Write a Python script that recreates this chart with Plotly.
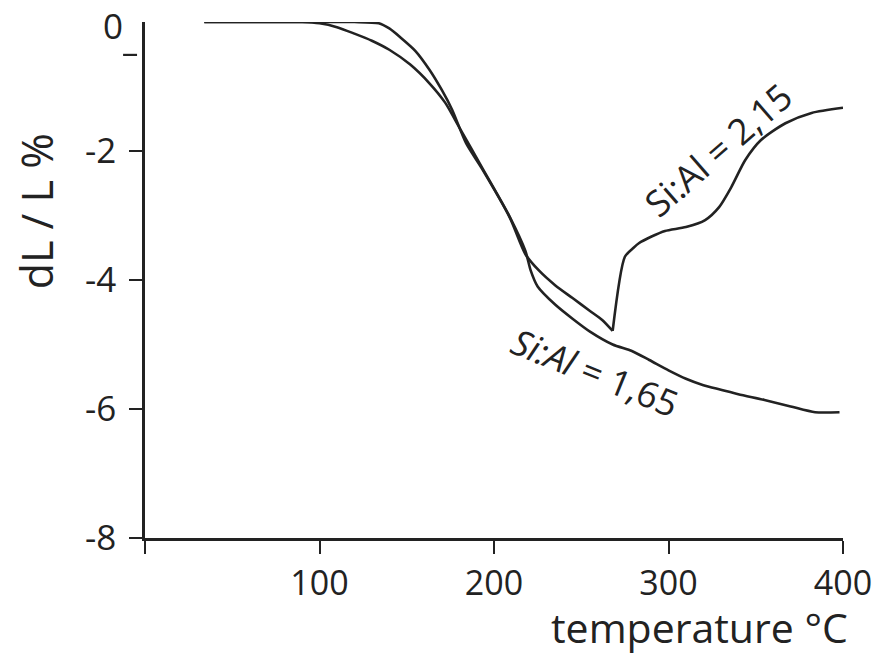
import plotly.graph_objects as go

# Si:Al = 1,65 curve
temp_165 = [34, 60, 90, 100, 110, 120, 130, 140, 152, 163, 172, 180, 193, 209, 218, 221, 225, 235, 245, 255, 268, 279, 289, 300, 310, 320, 330, 340, 355, 370, 384, 398]
dl_165 = [0, 0, 0, -0.02, -0.08, -0.18, -0.29, -0.43, -0.66, -0.95, -1.25, -1.63, -2.25, -3.02, -3.55, -3.85, -4.1, -4.38, -4.6, -4.8, -5.0, -5.1, -5.24, -5.4, -5.53, -5.63, -5.7, -5.77, -5.86, -5.96, -6.05, -6.05]

# Si:Al = 2,15 curve (falling part up to the minimum, then the rising part)
temp_215 = [34, 60, 100, 120, 134, 140, 146, 155, 163, 170, 176, 184, 193, 209, 218, 226, 235, 245, 255, 262, 268, 275, 280, 283, 290, 298, 310, 321, 329, 336, 344, 353, 367, 382, 400]
dl_215 = [0, 0, 0, 0, -0.02, -0.1, -0.23, -0.45, -0.74, -1.05, -1.36, -1.88, -2.27, -3.03, -3.6, -3.86, -4.08, -4.28, -4.48, -4.62, -4.79, -3.64, -3.5, -3.43, -3.33, -3.24, -3.18, -3.07, -2.87, -2.56, -2.14, -1.83, -1.57, -1.41, -1.33]
min_idx_215 = dl_215.index(min(dl_215))

x_ticks = [0, 100, 200, 300, 400]
x_labels = ["", "100", "200", "300", "400"]
y_ticks = [-8, -6, -4, -2]
y_labels = ["-8", "-6", "-4", "-2"]

INK = "#222222"
FONT = "Open Sans"
LINE = dict(color=INK, width=2.6, shape="spline", smoothing=0.7)

fig = go.Figure()
fig.add_trace(go.Scatter(x=temp_165, y=dl_165, mode="lines", line=LINE, showlegend=False))
fig.add_trace(go.Scatter(x=temp_215[:min_idx_215 + 1], y=dl_215[:min_idx_215 + 1],
                         mode="lines", line=LINE, showlegend=False))
fig.add_trace(go.Scatter(x=temp_215[min_idx_215:], y=dl_215[min_idx_215:],
                         mode="lines", line=LINE, showlegend=False))

fig.update_layout(
    width=884, height=656,
    margin=dict(l=145, r=39, t=22, b=118),
    paper_bgcolor="white", plot_bgcolor="white",
    font=dict(family=FONT, color=INK),
    xaxis=dict(range=[0, 400], tickvals=x_ticks, ticktext=x_labels,
               showgrid=False, zeroline=False, showline=True,
               linecolor=INK, linewidth=2.5, ticks="outside", ticklen=13,
               tickwidth=2.2, tickcolor=INK, tickfont=dict(size=34, family=FONT, color=INK),
               ticklabelstandoff=0),
    yaxis=dict(range=[-8, 0], tickvals=y_ticks, ticktext=y_labels,
               showgrid=False, zeroline=False, showline=True,
               linecolor=INK, linewidth=2.5, ticks="outside", ticklen=13,
               tickwidth=2.2, tickcolor=INK, tickfont=dict(size=35, family=FONT, color=INK),
               ticklabelstandoff=6),
)

annotations = [
    dict(text="0", xref="paper", x=0, xanchor="right", xshift=-20,
         yref="y", y=0, yanchor="middle", yshift=-3, showarrow=False,
         font=dict(size=35, family=FONT, color=INK)),
    dict(text="temperature °C", xref="paper", x=1, xanchor="right", xshift=7,
         yref="paper", y=0, yanchor="middle", yshift=-89, showarrow=False,
         font=dict(size=41, family=FONT, color=INK)),
    dict(text="dL / L %", xref="paper", x=-0.1557, xanchor="center",
         yref="paper", y=0.6337, yanchor="middle", textangle=-90, showarrow=False,
         font=dict(size=43, family=FONT, color=INK)),
    dict(text="Si:Al = 2,15", xref="x", x=328.6, yref="y", y=-1.98,
         xanchor="center", yanchor="middle", textangle=-41, showarrow=False,
         font=dict(size=36, family=FONT, color=INK)),
    dict(text="<i>Si:Al</i> = 1,65", xref="x", x=258, yref="y", y=-5.44,
         xanchor="center", yanchor="middle", textangle=22, showarrow=False,
         font=dict(size=36, family=FONT, color=INK)),
]
fig.update_layout(annotations=annotations)

fig.add_shape(type="line", xref="paper", yref="y", x0=-0.0314, x1=-0.0114,
              y0=-0.51, y1=-0.51, line=dict(color=INK, width=2.2))

fig.write_html("out.html")
